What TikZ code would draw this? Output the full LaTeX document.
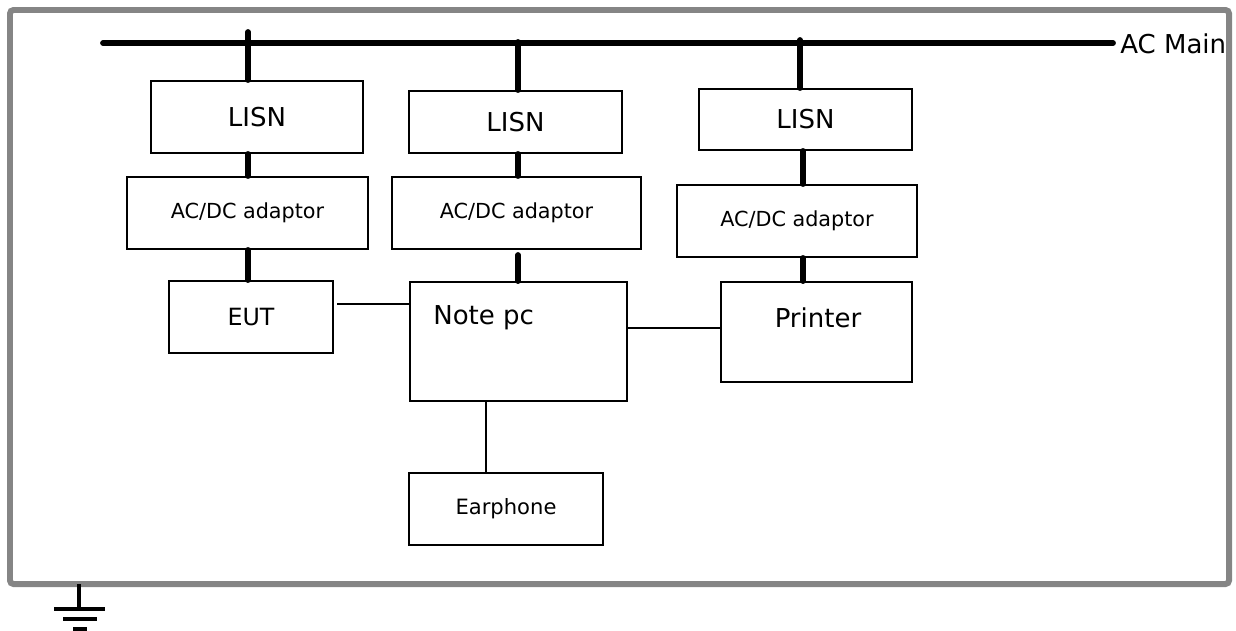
\documentclass[tikz,border=0pt]{standalone}
\usepackage{fontspec}
\setmainfont{DejaVu Sans}
\definecolor{framegray}{HTML}{858585}

\begin{document}
\begin{tikzpicture}[x=0.02cm, y=-0.02cm,
    box/.style={draw, line width=1.1pt, inner sep=0pt},
    feed/.style={line width=3.3pt, line cap=round},
    wire/.style={line width=0.85pt},
    big/.style={font=\fontsize{14.8}{17}\selectfont},
    small/.style={font=\fontsize{11.8}{14}\selectfont}]
      \useasboundingbox (0,0) rectangle (1236,630);
      \draw[line width=3.4pt, framegray, rounded corners=2pt] (10,10) rectangle (1229,584);

      \node[box, big, minimum width=4.24cm, minimum height=1.44cm] (1) at (257,117) {LISN};
      \node[box, big, minimum width=4.26cm, minimum height=1.24cm] (2) at (515.5,122) {LISN};
      \node[box, big, minimum width=4.26cm, minimum height=1.22cm] (3) at (805.5,119.5) {LISN};
      \node[box, small, minimum width=4.82cm, minimum height=1.44cm] (4) at (247.5,213) {AC/DC adaptor};
      \node[box, small, minimum width=4.98cm, minimum height=1.44cm] (5) at (516.5,213) {AC/DC adaptor};
      \node[box, small, minimum width=4.8cm, minimum height=1.44cm] (6) at (797,221) {AC/DC adaptor};
      \node[box, font=\fontsize{13.5}{16}\selectfont, minimum width=3.28cm, minimum height=1.44cm] (7) at (251,317) {EUT};
      \node[box, minimum width=4.34cm, minimum height=2.38cm] (8) at (518.5,341.5) {};
      \node[big, anchor=west, inner sep=0pt] (8a) at (433,318) {Note pc};
      \node[box, minimum width=3.82cm, minimum height=2cm] (9) at (816.5,332) {};
      \node[big, inner sep=0pt] (9a) at (818,318) {Printer};
      \node[box, font=\fontsize{12}{14}\selectfont, minimum width=3.88cm, minimum height=1.44cm] (10) at (506,509) {Earphone};

      \coordinate (a) at (103,43);
      \coordinate (b) at (1113,43);
      \draw[feed] (a) -- (b);
      \node[big, anchor=west, inner sep=0pt] (11) at (1120,44) {AC Main};

      \coordinate (d1) at (248,32);
      \coordinate (d2) at (518,42);
      \coordinate (d3) at (800,40);
      \coordinate (d4) at (803,150);
      \coordinate (g2) at (518,255);
      \draw[feed] (d1) -- (d1 |- 1.north);
      \draw[feed] (1.south -| d1) -- (4.north -| d1);
      \draw[feed] (4.south -| d1) -- (7.north -| d1);
      \draw[feed] (d2) -- (d2 |- 2.north);
      \draw[feed] (2.south -| d2) -- (5.north -| d2);
      \draw[feed] (g2) -- (g2 |- 8.north);
      \draw[feed] (d3) -- (d3 |- 3.north);
      \draw[feed] (3.south -| d4) -- (6.north -| d4);
      \draw[feed] (6.south -| d4) -- (9.north -| d4);

      \coordinate (w1) at (337,304);
      \coordinate (w2) at (627,328);
      \coordinate (w3) at (486,401);
      \draw[wire] (w1) -- (w1 -| 8.west);
      \draw[wire] (w2) -- (w2 -| 9.west);
      \draw[wire] (w3) -- (w3 |- 10.north);

      \coordinate (g) at (79,584);
      \draw[line width=2.3pt] (g) -- ++(0,25);
      \draw[line width=2.3pt] (54,609) -- (105,609);
      \draw[line width=2.3pt] (63,619) -- (97,619);
      \draw[line width=2.3pt] (73,629) -- (87,629);
    \end{tikzpicture}
\end{document}
